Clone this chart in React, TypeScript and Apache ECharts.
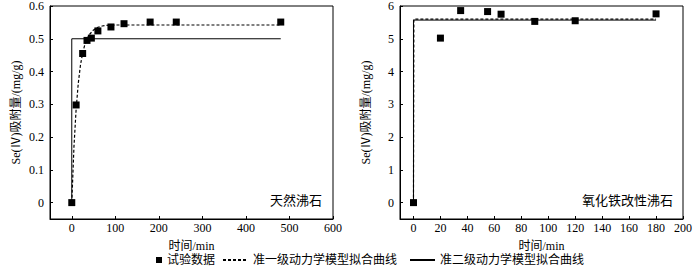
import React, { useEffect, useRef } from "react";
import * as echarts from "echarts";

// Left panel: natural zeolite
const leftExpT = [0, 10, 25, 35, 45, 60, 90, 120, 180, 240, 480];
const leftExpQ = [0, 0.298, 0.455, 0.495, 0.502, 0.524, 0.536, 0.546, 0.551, 0.551, 0.551];
const leftPfoT = [0, 5, 10, 15, 20, 25, 30, 35, 40, 50, 60, 70, 80, 100, 120, 150, 200, 300, 400, 480];
const leftPfoQ = [0, 0.17, 0.285, 0.365, 0.42, 0.457, 0.482, 0.5, 0.512, 0.527, 0.535, 0.539, 0.541, 0.542, 0.542, 0.542, 0.542, 0.542, 0.542, 0.542];
const leftPsoT = [0, 0, 480];
const leftPsoQ = [0, 0.5, 0.5];

// Right panel: iron-oxide modified zeolite
const rightExpT = [0, 20, 35, 55, 65, 90, 120, 180];
const rightExpQ = [0, 5.02, 5.86, 5.83, 5.75, 5.53, 5.55, 5.76];
const rightPfoT = [0, 0.3, 180];
const rightPfoQ = [0, 5.6, 5.6];
const rightPsoT = [0, 0, 180];
const rightPsoQ = [0, 5.57, 5.57];

const leftXTicks = [0, 100, 200, 300, 400, 500, 600];
const leftYTicks = [0, 0.1, 0.2, 0.3, 0.4, 0.5, 0.6];
const rightXTicks = [0, 20, 40, 60, 80, 100, 120, 140, 160, 180, 200];
const rightYTicks = [0, 1, 2, 3, 4, 5, 6];

const S_EXP = "试验数据";
const S_PFO = "准一级动力学模型拟合曲线";
const S_PSO = "准二级动力学模型拟合曲线";
const Y_NAME = "Se(Ⅳ)吸附量/(mg/g)";
const X_NAME = "时间/min";

const FONT = "'Liberation Serif', 'Noto Sans CJK SC', serif";

const zip = (a: number[], b: number[]) => a.map((v, i) => [v, b[i]]);

export default function App() {
  const ref = useRef<HTMLDivElement>(null);
  useEffect(() => {
    if (!ref.current) return;
    const chart = echarts.init(ref.current, null, { renderer: "svg" });
    const xAxisBase = (min: number, max: number, ticks: number[]) => ({
      type: "value",
      min,
      max,
      name: X_NAME,
      nameLocation: "middle",
      nameGap: 21,
      nameTextStyle: { fontFamily: FONT, fontSize: 12, color: "#000" },
      axisLine: { show: true, onZero: false, lineStyle: { color: "#000", width: 1 } },
      axisTick: { show: true, inside: true, length: 3, customValues: ticks, lineStyle: { color: "#000" } },
      axisLabel: { customValues: ticks, fontFamily: FONT, fontSize: 12, color: "#000", margin: 3 },
      splitLine: { show: false },
    });
    const yAxisBase = (min: number, max: number, ticks: number[]) => ({
      type: "value",
      min,
      max,
      name: Y_NAME,
      nameLocation: "middle",
      nameGap: 28,
      nameRotate: 90,
      nameTextStyle: { fontFamily: FONT, fontSize: 12, color: "#000" },
      axisLine: { show: true, onZero: false, lineStyle: { color: "#000", width: 1 } },
      axisTick: { show: true, inside: true, length: 3, customValues: ticks, lineStyle: { color: "#000" } },
      axisLabel: { customValues: ticks, fontFamily: FONT, fontSize: 12, color: "#000", margin: 6 },
      splitLine: { show: false },
    });
    const scatter = (xi: number, t: number[], q: number[]) => ({
      name: S_EXP,
      type: "scatter",
      xAxisIndex: xi,
      yAxisIndex: xi,
      symbol: "rect",
      symbolSize: 7,
      itemStyle: { color: "#000", opacity: 1 },
      data: zip(t, q),
      z: 5,
    });
    const line = (name: string, xi: number, t: number[], q: number[], dashed: boolean) => ({
      name,
      type: "line",
      xAxisIndex: xi,
      yAxisIndex: xi,
      symbol: "none",
      smooth: false,
      lineStyle: { color: "#000", width: dashed ? 1.2 : 1, type: dashed ? [3, 2] : "solid" },
      itemStyle: { color: "#000" },
      data: zip(t, q),
      z: dashed ? 4 : 3,
    });
    chart.setOption({
      animation: false,
      backgroundColor: "#fff",
      grid: [
        { left: 50, top: 6, width: 283, height: 213, show: true, borderColor: "#000", borderWidth: 1, containLabel: false },
        { left: 400, top: 6, width: 283, height: 213, show: true, borderColor: "#000", borderWidth: 1, containLabel: false },
      ],
      xAxis: [
        { ...xAxisBase(-50, 600, leftXTicks), gridIndex: 0 },
        { ...xAxisBase(-10, 200, rightXTicks), gridIndex: 1 },
      ],
      yAxis: [
        { ...yAxisBase(-0.05, 0.6, leftYTicks), gridIndex: 0 },
        { ...yAxisBase(-0.5, 6, rightYTicks), gridIndex: 1 },
      ],
      legend: [
        {
          data: [S_EXP],
          left: 156,
          top: 254,
          padding: 0,
          itemWidth: 6,
          itemHeight: 6,
          icon: "rect",
          itemStyle: { color: "#000", opacity: 1 },
          textStyle: { fontFamily: FONT, fontSize: 12, color: "#000" },
        },
        {
          data: [S_PFO, S_PSO],
          left: 222,
          top: 254,
          padding: 0,
          itemWidth: 25,
          itemHeight: 10,
          itemGap: 12,
          itemStyle: { color: "rgba(0,0,0,0)", borderWidth: 0, borderColor: "rgba(0,0,0,0)" },
          textStyle: { fontFamily: FONT, fontSize: 12, color: "#000" },
        },
      ],
      graphic: [
        {
          type: "text",
          right: 700 - 322,
          top: 194,
          style: { text: "天然沸石", font: `13px ${FONT}`, fill: "#000" },
        },
        {
          type: "text",
          right: 700 - 673,
          top: 194,
          style: { text: "氧化铁改性沸石", font: `13px ${FONT}`, fill: "#000" },
        },
      ],
      series: [
        line(S_PSO, 0, leftPsoT, leftPsoQ, false),
        line(S_PFO, 0, leftPfoT, leftPfoQ, true),
        scatter(0, leftExpT, leftExpQ),
        line(S_PSO, 1, rightPsoT, rightPsoQ, false),
        line(S_PFO, 1, rightPfoT, rightPfoQ, true),
        scatter(1, rightExpT, rightExpQ),
      ],
    });
    return () => chart.dispose();
  }, []);
  return (
    <div
      ref={ref}
      style={{ position: "absolute", left: 0, top: 0, width: 700, height: 269 }}
    />
  );
}
